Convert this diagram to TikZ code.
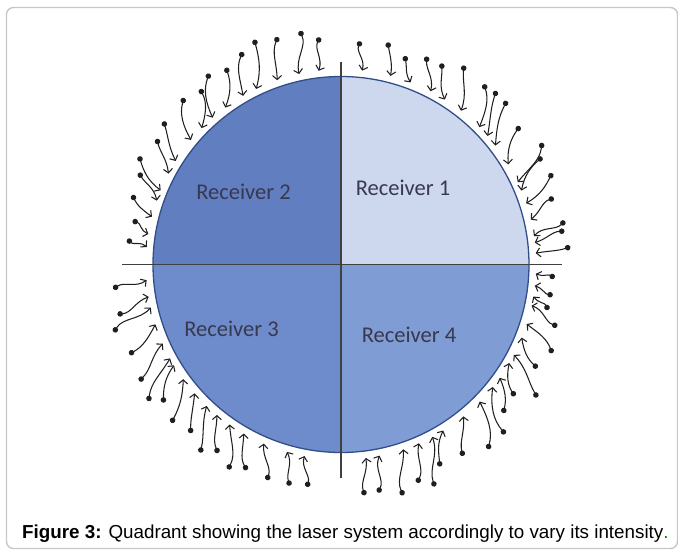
\documentclass[tikz,border=0pt]{standalone}
\usepackage{fontspec}
\usetikzlibrary{arrows.meta}
\newfontfamily\recfont{Carlito}
\newfontfamily\capfont{Liberation Sans}
\definecolor{quadA}{RGB}{205,216,238}
\definecolor{quadB}{RGB}{96,126,192}
\definecolor{quadC}{RGB}{110,140,204}
\definecolor{quadD}{RGB}{128,156,212}
\definecolor{contour}{RGB}{50,78,138}
\definecolor{texte}{RGB}{56,56,78}
\tikzset{
    rayon/.style={
        line width=1.05pt, draw={black!88},
        {Circle[length=5.5pt]}-{Straight Barb[length=4pt, width=9pt]}
    },
    recepteur/.style={font=\recfont\fontsize{22.5}{26}\selectfont, text=texte}
}

\begin{document}
\begin{tikzpicture}[x=1pt, y=1pt]

	\def\R{188}
	\def\Rf{195}

	% cadre
	\useasboundingbox (-341,-287.5) rectangle (337,264.5);
	\draw[black!22, line width=1.4pt, rounded corners=7pt]
		(-334.5,-284) rectangle (336.5,257);

	\coordinate (O) at (0,0);

		% les quatre quadrants
		\fill[quadA] (O) -- (0:\R) arc[start angle=0, end angle=90, radius=\R] -- cycle;
		\fill[quadB] (O) -- (90:\R) arc[start angle=90, end angle=180, radius=\R] -- cycle;
		\fill[quadC] (O) -- (180:\R) arc[start angle=180, end angle=270, radius=\R] -- cycle;
		\fill[quadD] (O) -- (270:\R) arc[start angle=270, end angle=360, radius=\R] -- cycle;
		\draw[contour, line width=1.3pt] (O) circle[radius=\R];

		% axes
		\draw[black!75, line width=1.3pt] (-219,0) -- (221,0);
		\draw[black!75, line width=1.3pt] (0,202.5) -- (0,-213.5);

		\node[recepteur] (r1) at (62,76.5) {Receiver 1};
		\node[recepteur] (r2) at (-97.5,72.5) {Receiver 2};
		\node[recepteur] (r3) at (-109.5,-64.5) {Receiver 3};
		\node[recepteur] (r4) at (68,-70.5) {Receiver 4};

		% rayons laser
		\foreach \a/\r in {95.3/228, 100/237, 105.5/236, 111.1/241, 114.8/234,
			120.3/228, 124.6/232, 128.8/225, 133.3/229, 141.1/228, 145.7/223,
			151.8/229, 155.6/222, 161.6/220, 168.2/213, 173.2/215,
			85/224, 78.1/227, 73/218, 67.6/225, 63.4/225, 58.3/234, 51.6/230,
			48.2/233, 44.6/233, 37.7/226, 31.2/235, 28.1/228, 23.4/230,
			17.3/223, 11/228, 8.5/226, 4.4/230,
			356.4/214, 351.8/214, 347.6/212, 344.1/225, 337.2/229, 332.2/222,
			325.9/237, 322.9/218, 317.5/220, 314.1/236, 308.5/236, 302.5/227,
			296.1/225, 292.9/241, 289.2/231, 285.1/239, 279.2/231, 275.9/232,
			261.3/225, 257/227, 251/228, 245.4/226, 241.1/234, 236.9/225,
			233.2/235, 228.3/226, 223/232, 217.9/225, 215.4/236, 210/233,
			202.9/230, 196.6/237, 192.5/229, 186.1/229}
		{
			\pgfmathsetmacro\fin{\a-7*sin(2*\a)}
			\pgfmathsetmacro\sortie{26*sin(\a*37)}
			\pgfmathsetmacro\entree{180+22*sin(\a*41)}
			\draw[rayon] (\a:\r) to[relative, out=\sortie, in=\entree] (\fin:\Rf);
		}

	% legende
	\node[anchor=base west, font=\capfont\fontsize{18.8}{22}\selectfont, inner sep=0pt]
		(leg) at (-319,-273.5)
		{\textbf{Figure 3:} Quadrant showing the laser system accordingly to vary its intensity\textcolor{green!55!black}{.}};

\end{tikzpicture}
\end{document}
